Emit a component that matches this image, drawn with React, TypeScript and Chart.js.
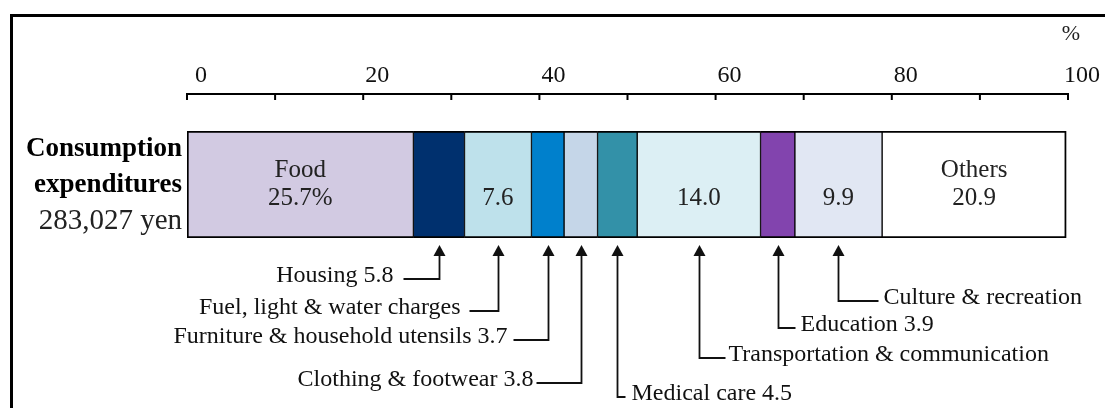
import React, { useEffect, useRef } from 'react';
import { Chart, registerables } from 'chart.js';

Chart.register(...registerables);

const FONT = '"Liberation Serif", "Times New Roman", serif';

// ---- data ----
const categories = [
  'Food',
  'Housing',
  'Fuel, light & water charges',
  'Furniture & household utensils',
  'Clothing & footwear',
  'Medical care',
  'Transportation & communication',
  'Education',
  'Culture & recreation',
  'Others',
];
const values = [25.7, 5.8, 7.6, 3.7, 3.8, 4.5, 14.0, 3.9, 9.9, 20.9];
const colors = [
  '#D2CAE2',
  '#00306E',
  '#BEE1EB',
  '#0080CC',
  '#C5D6E8',
  '#3391A8',
  '#DCEFF4',
  '#8244AE',
  '#E1E7F3',
  '#FFFFFF',
];
const rowTitle = ['Consumption', 'expenditures'];
const rowTotal = '283,027 yen';
const barRow = ['Consumption expenditures'];
const majorTicks = [0, 20, 40, 60, 80, 100];
const minorTicks = [0, 10, 20, 30, 40, 50, 60, 70, 80, 90, 100];
const unitLabel = '%';

// labels written inside the bar: [top line, bottom line]
const inBar: (string[] | null)[] = [
  [categories[0], values[0].toFixed(1) + '%'],
  null,
  ['', values[2].toFixed(1)],
  null,
  null,
  null,
  ['', values[6].toFixed(1)],
  null,
  ['', values[8].toFixed(1)],
  [categories[9], values[9].toFixed(1)],
];

// call-outs below the bar
const callouts = [
  { index: 1, text: 'Housing 5.8', side: 'left', y: 279, len: 36, gap: 10 },
  { index: 2, text: 'Fuel, light & water charges', side: 'left', y: 311, len: 29, gap: 9 },
  { index: 3, text: 'Furniture & household utensils 3.7', side: 'left', y: 340, len: 35, gap: 6 },
  { index: 4, text: 'Clothing & footwear 3.8', side: 'left', y: 383, len: 45, gap: 3 },
  { index: 5, text: 'Medical care 4.5', side: 'right', y: 397, len: 8, gap: 6 },
  { index: 6, text: 'Transportation & communication', side: 'right', y: 358, len: 26, gap: 3 },
  { index: 7, text: 'Education 3.9', side: 'right', y: 328, len: 17, gap: 5 },
  { index: 8, text: 'Culture & recreation', side: 'right', y: 301, len: 40, gap: 5 },
];

const overlay = {
  id: 'overlay',
  beforeDraw(chart: any) {
    const ctx = chart.ctx;
    ctx.save();
    ctx.fillStyle = '#ffffff';
    ctx.fillRect(0, 0, chart.width, chart.height);
    ctx.fillStyle = '#000000';
    ctx.fillRect(10, 14, 3, chart.height - 14);
    ctx.fillRect(10, 14, chart.width - 10, 3);
    ctx.restore();
  },
  afterDraw(chart: any) {
    const ctx = chart.ctx;
    const xs = chart.scales.x;
    const area = chart.chartArea;
    ctx.save();
    ctx.strokeStyle = '#000';
    ctx.fillStyle = '#000';

    // axis line with downward ticks
    const axisY = 94;
    ctx.lineWidth = 2;
    ctx.beginPath();
    ctx.moveTo(xs.getPixelForValue(0), axisY);
    ctx.lineTo(xs.getPixelForValue(100), axisY);
    ctx.stroke();
    for (const v of minorTicks) {
      const px = xs.getPixelForValue(v);
      ctx.beginPath();
      ctx.moveTo(px, axisY - 1);
      ctx.lineTo(px, axisY + 6);
      ctx.stroke();
    }

    // unit
    ctx.font = `22px ${FONT}`;
    ctx.textAlign = 'center';
    ctx.textBaseline = 'middle';
    ctx.fillStyle = '#222';
    ctx.fillText(unitLabel, xs.getPixelForValue(100) + 3, 34);

    // row title
    ctx.fillStyle = '#000';
    ctx.textAlign = 'right';
    const midY = (area.top + area.bottom) / 2;
    ctx.font = `bold 27px ${FONT}`;
    ctx.fillText(rowTitle[0], area.left - 5, midY - 35);
    ctx.fillText(rowTitle[1], area.left - 5, midY + 1);
    ctx.font = `29px ${FONT}`;
    ctx.fillStyle = '#222';
    ctx.fillText(rowTotal, area.left - 5, midY + 37);

    // in-bar labels
    ctx.font = `25px ${FONT}`;
    ctx.textAlign = 'center';
    inBar.forEach((lines, i) => {
      if (!lines) return;
      const el = chart.getDatasetMeta(i).data[0];
      const cx = (el.x + el.base) / 2;
      if (lines[0]) ctx.fillText(lines[0], cx, el.y - 14);
      if (lines[1]) ctx.fillText(lines[1], cx, el.y + 14);
    });

    // call-outs
    ctx.lineWidth = 1.8;
    ctx.strokeStyle = '#111';
    ctx.fillStyle = '#111';
    callouts.forEach((c) => {
      const el = chart.getDatasetMeta(c.index).data[0];
      const cx = Math.round((el.x + el.base) / 2) + 0.5;
      const bottom = el.y + el.height / 2;
      const tipY = bottom + 7;
      const headH = 11;
      const headW = 6;
      const endX = c.side === 'left' ? cx - c.len : cx + c.len;
      ctx.beginPath();
      ctx.moveTo(cx, tipY + headH - 1);
      ctx.lineTo(cx, c.y);
      ctx.lineTo(endX, c.y);
      ctx.stroke();
      ctx.beginPath();
      ctx.moveTo(cx, tipY);
      ctx.lineTo(cx - headW, tipY + headH);
      ctx.lineTo(cx + headW, tipY + headH);
      ctx.closePath();
      ctx.fill();
      ctx.font = `24px ${FONT}`;
      ctx.textBaseline = 'middle';
      if (c.side === 'left') {
        ctx.textAlign = 'right';
        ctx.fillText(c.text, endX - c.gap, c.y - 3);
      } else {
        ctx.textAlign = 'left';
        ctx.fillText(c.text, endX + c.gap, c.y - 3);
      }
    });
    ctx.restore();
  },
};

export default function App() {
  const ref = useRef<HTMLCanvasElement | null>(null);

  useEffect(() => {
    document.body.style.margin = '0';
    if (!ref.current) return;
    const n = values.length;
    const datasets = values.map((v, i) => ({
      label: categories[i],
      data: [v],
      backgroundColor: colors[i],
      borderColor: '#000000',
      borderWidth: {
        top: 2,
        bottom: 2,
        left: i === 0 ? 2 : 1,
        right: i === n - 1 ? 2 : 1,
      },
      borderSkipped: false,
      barPercentage: 1,
      categoryPercentage: 1,
    }));
    const chart = new Chart(ref.current, {
      type: 'bar',
      data: { labels: barRow, datasets },
      options: {
        indexAxis: 'y',
        animation: false,
        responsive: true,
        maintainAspectRatio: false,
        layout: { padding: { left: 187, right: 37, top: 0, bottom: 170 } },
        plugins: {
          legend: { display: false },
          tooltip: { enabled: false },
        },
        scales: {
          x: {
            position: 'top',
            stacked: true,
            min: 0,
            max: 100,
            afterBuildTicks: (scale: any) => {
              scale.ticks = majorTicks.map((v) => ({ value: v }));
            },
            afterFit: (scale: any) => {
              scale.height = 131;
              scale.paddingLeft = 0;
              scale.paddingRight = 0;
            },
            grid: { display: false, drawTicks: false },
            border: { display: false },
            ticks: {
              padding: 41,
              labelOffset: 14,
              color: '#111',
              font: { family: FONT, size: 24 },
              maxRotation: 0,
              autoSkip: false,
            },
          },
          y: {
            stacked: true,
            display: false,
          },
        },
      },
      plugins: [overlay],
    });
    return () => chart.destroy();
  }, []);

  return (
    <div style={{ width: 1105, height: 408, position: 'relative' }}>
      <canvas ref={ref} />
    </div>
  );
}
